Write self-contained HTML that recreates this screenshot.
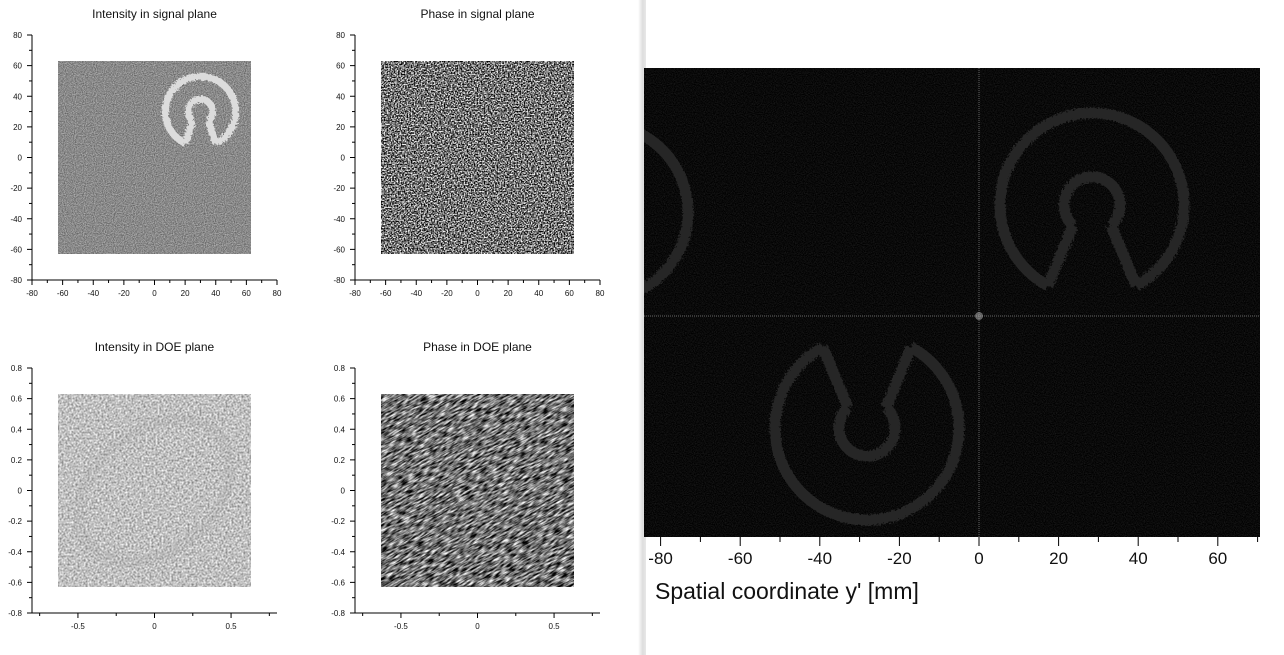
<!DOCTYPE html>
<html><head><meta charset="utf-8"><style>
html,body{margin:0;padding:0;background:#fff;width:1284px;height:655px;overflow:hidden;font-family:"Liberation Sans",sans-serif}
#s{position:absolute;left:0;top:0;overflow:hidden}
</style></head><body>
<svg id="s" width="1284" height="655" viewBox="0 0 1284 655">
<defs>
<filter id="nA" x="0" y="0" width="1" height="1" color-interpolation-filters="sRGB"><feTurbulence type="fractalNoise" baseFrequency="0.9" numOctaves="1" seed="2"/><feColorMatrix values="1 0 0 0 0 1 0 0 0 0 1 0 0 0 0 0 0 0 0 1"/><feComponentTransfer><feFuncR type="linear" slope="0.6" intercept="0.24"/><feFuncG type="linear" slope="0.6" intercept="0.24"/><feFuncB type="linear" slope="0.6" intercept="0.24"/><feFuncA type="linear" slope="0" intercept="1"/></feComponentTransfer></filter>
<filter id="nB" x="0" y="0" width="1" height="1" color-interpolation-filters="sRGB"><feTurbulence type="fractalNoise" baseFrequency="0.7" numOctaves="1" seed="5"/><feColorMatrix values="1 0 0 0 0 1 0 0 0 0 1 0 0 0 0 0 0 0 0 1"/><feComponentTransfer><feFuncR type="linear" slope="2.6" intercept="-0.85"/><feFuncG type="linear" slope="2.6" intercept="-0.85"/><feFuncB type="linear" slope="2.6" intercept="-0.85"/><feFuncA type="linear" slope="0" intercept="1"/></feComponentTransfer></filter>
<filter id="nC" x="0" y="0" width="1" height="1" color-interpolation-filters="sRGB"><feTurbulence type="fractalNoise" baseFrequency="0.5" numOctaves="2" seed="9"/><feColorMatrix values="1 0 0 0 0 1 0 0 0 0 1 0 0 0 0 0 0 0 0 1"/><feComponentTransfer><feFuncR type="linear" slope="0.75" intercept="0.38"/><feFuncG type="linear" slope="0.75" intercept="0.38"/><feFuncB type="linear" slope="0.75" intercept="0.38"/><feFuncA type="linear" slope="0" intercept="1"/></feComponentTransfer></filter>
<filter id="nD" x="0" y="0" width="1" height="1" color-interpolation-filters="sRGB"><feTurbulence type="fractalNoise" baseFrequency="0.12 0.6" numOctaves="2" seed="3"/><feColorMatrix values="1 0 0 0 0 1 0 0 0 0 1 0 0 0 0 0 0 0 0 1"/><feComponentTransfer><feFuncR type="linear" slope="1.8" intercept="-0.45"/><feFuncG type="linear" slope="1.8" intercept="-0.45"/><feFuncB type="linear" slope="1.8" intercept="-0.45"/><feFuncA type="linear" slope="0" intercept="1"/></feComponentTransfer></filter>
<filter id="nE" x="0" y="0" width="1" height="1" color-interpolation-filters="sRGB"><feTurbulence type="fractalNoise" baseFrequency="0.9" numOctaves="1" seed="7"/><feColorMatrix values="1 0 0 0 0 1 0 0 0 0 1 0 0 0 0 0 0 0 0 1"/><feComponentTransfer><feFuncR type="linear" slope="0.2" intercept="-0.06"/><feFuncG type="linear" slope="0.2" intercept="-0.06"/><feFuncB type="linear" slope="0.2" intercept="-0.06"/><feFuncA type="linear" slope="0" intercept="1"/></feComponentTransfer></filter>
<filter id="rough"><feTurbulence type="fractalNoise" baseFrequency="0.6" seed="4"/><feDisplacementMap in="SourceGraphic" scale="6"/></filter>
<linearGradient id="sh" x1="0" x2="1"><stop offset="0" stop-color="#fff"/><stop offset="0.6" stop-color="#ddd"/><stop offset="1" stop-color="#e8e8e8"/></linearGradient>
<clipPath id="rc"><rect x="644" y="68" width="616" height="469"/></clipPath>
</defs>
<g id="left"></g>
<rect x="638" y="0" width="8" height="655" fill="url(#sh)"/>
<g id="right"></g>
</svg>
<script>
const NS="http://www.w3.org/2000/svg";
const sigTicks=[-80,-60,-40,-20,0,20,40,60,80];
const sigMinor=[-70,-50,-30,-10,10,30,50,70];
const doeYTicks=[-0.8,-0.6,-0.4,-0.2,0,0.2,0.4,0.6,0.8];
const doeXTicks=[-0.5,0,0.5];
const doeXMinor=[-0.75,-0.25,0.25,0.75];
const rightTicks=[-80,-60,-40,-20,0,20,40,60];
const rightMinor=[-70,-50,-30,-10,10,30,50,70];
const titles=["Intensity in signal plane","Phase in signal plane","Intensity in DOE plane","Phase in DOE plane"];
function el(t,a,p){const e=document.createElementNS(NS,t);for(const k in a)e.setAttribute(k,a[k]);(p||document.getElementById('s')).appendChild(e);return e;}
const L=document.getElementById('left'),R=document.getElementById('right');
function fmt(v){return String(Math.round(v*10)/10);}
const panels=[{ox:32,oy:35,sig:true,f:'nA'},{ox:355,oy:35,sig:true,f:'nB'},{ox:32,oy:368,sig:false,f:'nC'},{ox:355,oy:368,sig:false,f:'nD'}];
panels.forEach((p,i)=>{
  const W=245,H=245;
  const xr=p.sig?[-80,80]:[-0.8,0.8], yr=p.sig?[-80,80]:[-0.8,0.8];
  const X=v=>p.ox+(v-xr[0])/(xr[1]-xr[0])*W;
  const Y=v=>p.oy+H-(v-yr[0])/(yr[1]-yr[0])*H;
  const g=el('g',{},L);
  
  
  const ext=p.sig?63:0.63;
  const x0=X(-ext),y0=Y(ext),w=X(ext)-X(-ext),h=Y(-ext)-Y(ext);
  let img;
  if(i===3){
    img=el('svg',{x:x0,y:y0,width:w,height:h,overflow:'hidden'},g);
    el('rect',{x:-60,y:-60,width:w+120,height:h+120,filter:'url(#nD)',transform:`rotate(-30 ${w/2} ${h/2})`},img);
  } else img=el('rect',{x:x0,y:y0,width:w,height:h,filter:'url(#'+p.f+')'},g);
  
  
  if(i===0){
    const cx=X(30),cy=Y(30),ro=X(23)-X(0),ri=X(8)-X(0);
    const lg=el('g',{stroke:'#dcdcdc','stroke-width':7,fill:'none',filter:'url(#rough)'},g);
    
    
    const a1=Math.PI/2+0.45,a2=Math.PI/2-0.45;
    el('path',{d:`M${cx+ro*Math.cos(a1)} ${cy+ro*Math.sin(a1)} A${ro} ${ro} 0 1 1 ${cx+ro*Math.cos(a2)} ${cy+ro*Math.sin(a2)}`},lg);
    const b1=Math.PI/2+0.7,b2=Math.PI/2-0.7;
    el('path',{d:`M${cx+ri*Math.cos(b1)} ${cy+ri*Math.sin(b1)} A${ri} ${ri} 0 1 1 ${cx+ri*Math.cos(b2)} ${cy+ri*Math.sin(b2)}`},lg);
    el('line',{x1:cx+ri*Math.cos(b1),y1:cy+ri*Math.sin(b1),x2:cx+ro*Math.cos(a1),y2:cy+ro*Math.sin(a1)},lg);
    el('line',{x1:cx+ri*Math.cos(b2),y1:cy+ri*Math.sin(b2),x2:cx+ro*Math.cos(a2),y2:cy+ro*Math.sin(a2)},lg);
  }
  if(i===2){
    const ov=el('ellipse',{cx:X(0),cy:Y(0),rx:85,ry:60,fill:'none',stroke:'#999','stroke-width':10,opacity:0.15,transform:`rotate(-40 ${X(0)} ${Y(0)})`},g);
    
    
  }
  const t=el('text',{x:p.ox+W/2,y:p.oy-17,'text-anchor':'middle','font-size':12,fill:'#111'},g);
  t.textContent=titles[i];
  
  
  const ax=el('path',{d:`M${p.ox} ${p.oy}V${p.oy+H}H${p.ox+W}`,stroke:'#000','stroke-width':1,fill:'none'},g);
  
  
  const xt=p.sig?sigTicks:doeXTicks, xm=p.sig?sigMinor:doeXMinor;
  const yt=p.sig?sigTicks:doeYTicks, ym=p.sig?sigMinor:[-0.7,-0.5,-0.3,-0.1,0.1,0.3,0.5,0.7];
  xt.forEach(v=>{el('line',{x1:X(v),x2:X(v),y1:p.oy+H,y2:p.oy+H+5,stroke:'#000'},g);
    const tx=el('text',{x:X(v),y:p.oy+H+16,'text-anchor':'middle','font-size':8,fill:'#111'},g);tx.textContent=fmt(v);
    });
  xm.forEach(v=>el('line',{x1:X(v),x2:X(v),y1:p.oy+H,y2:p.oy+H+3,stroke:'#000'},g));
  yt.forEach(v=>{el('line',{x1:p.ox,x2:p.ox-5,y1:Y(v),y2:Y(v),stroke:'#000'},g);
    const ty=el('text',{x:p.ox-10,y:Y(v)+3,'text-anchor':'end','font-size':8,fill:'#111'},g);ty.textContent=fmt(v);
    });
  ym.forEach(v=>el('line',{x1:p.ox,x2:p.ox-3,y1:Y(v),y2:Y(v),stroke:'#000'},g));
});
const RX=v=>979+v*3.98;
const bg=el('rect',{x:644,y:68,width:616,height:469,fill:'#000'},R);


el('rect',{x:644,y:68,width:616,height:469,filter:'url(#nE)'},R);
const lgR=el('g',{'clip-path':'url(#rc)',fill:'none',stroke:'#262626','stroke-width':11,filter:'url(#rough)'},R);


function logo(cx,cy,ro,ri,rot){
  const g=el('g',{transform:`rotate(${rot} ${cx} ${cy})`},lgR);
  const a1=Math.PI/2+0.5,a2=Math.PI/2-0.5,b1=Math.PI/2+0.75,b2=Math.PI/2-0.75;
  el('path',{d:`M${cx+ro*Math.cos(a1)} ${cy+ro*Math.sin(a1)} A${ro} ${ro} 0 1 1 ${cx+ro*Math.cos(a2)} ${cy+ro*Math.sin(a2)}`},g);
  el('path',{d:`M${cx+ri*Math.cos(b1)} ${cy+ri*Math.sin(b1)} A${ri} ${ri} 0 1 1 ${cx+ri*Math.cos(b2)} ${cy+ri*Math.sin(b2)}`},g);
  el('line',{x1:cx+ri*Math.cos(b1),y1:cy+ri*Math.sin(b1),x2:cx+ro*Math.cos(a1),y2:cy+ro*Math.sin(a1)},g);
  el('line',{x1:cx+ri*Math.cos(b2),y1:cy+ri*Math.sin(b2),x2:cx+ro*Math.cos(a2),y2:cy+ro*Math.sin(a2)},g);
}
logo(1092,205,92,28,0);
logo(867,428,92,28,180);
logo(600,212,88,26,0);
el('line',{x1:979,x2:979,y1:68,y2:537,stroke:'#555','stroke-width':1.2,'stroke-dasharray':'1 1'},R);
el('line',{x1:644,x2:1260,y1:316,y2:316,stroke:'#555','stroke-width':1.2,'stroke-dasharray':'1 1'},R);
el('circle',{cx:979,cy:316,r:4,fill:'#bbb',opacity:0.5},R);
rightTicks.forEach(v=>{el('line',{x1:RX(v),x2:RX(v),y1:537,y2:546,stroke:'#000'},R);
  const t=el('text',{x:RX(v),y:564,'text-anchor':'middle','font-size':17,fill:'#111'},R);t.textContent=v;
  });
rightMinor.forEach(v=>el('line',{x1:RX(v),x2:RX(v),y1:537,y2:542,stroke:'#000'},R));
const at=el('text',{x:655,y:599,'font-size':23,fill:'#111'},R);
at.textContent="Spatial coordinate y' [mm]";


</script>
</body></html>
